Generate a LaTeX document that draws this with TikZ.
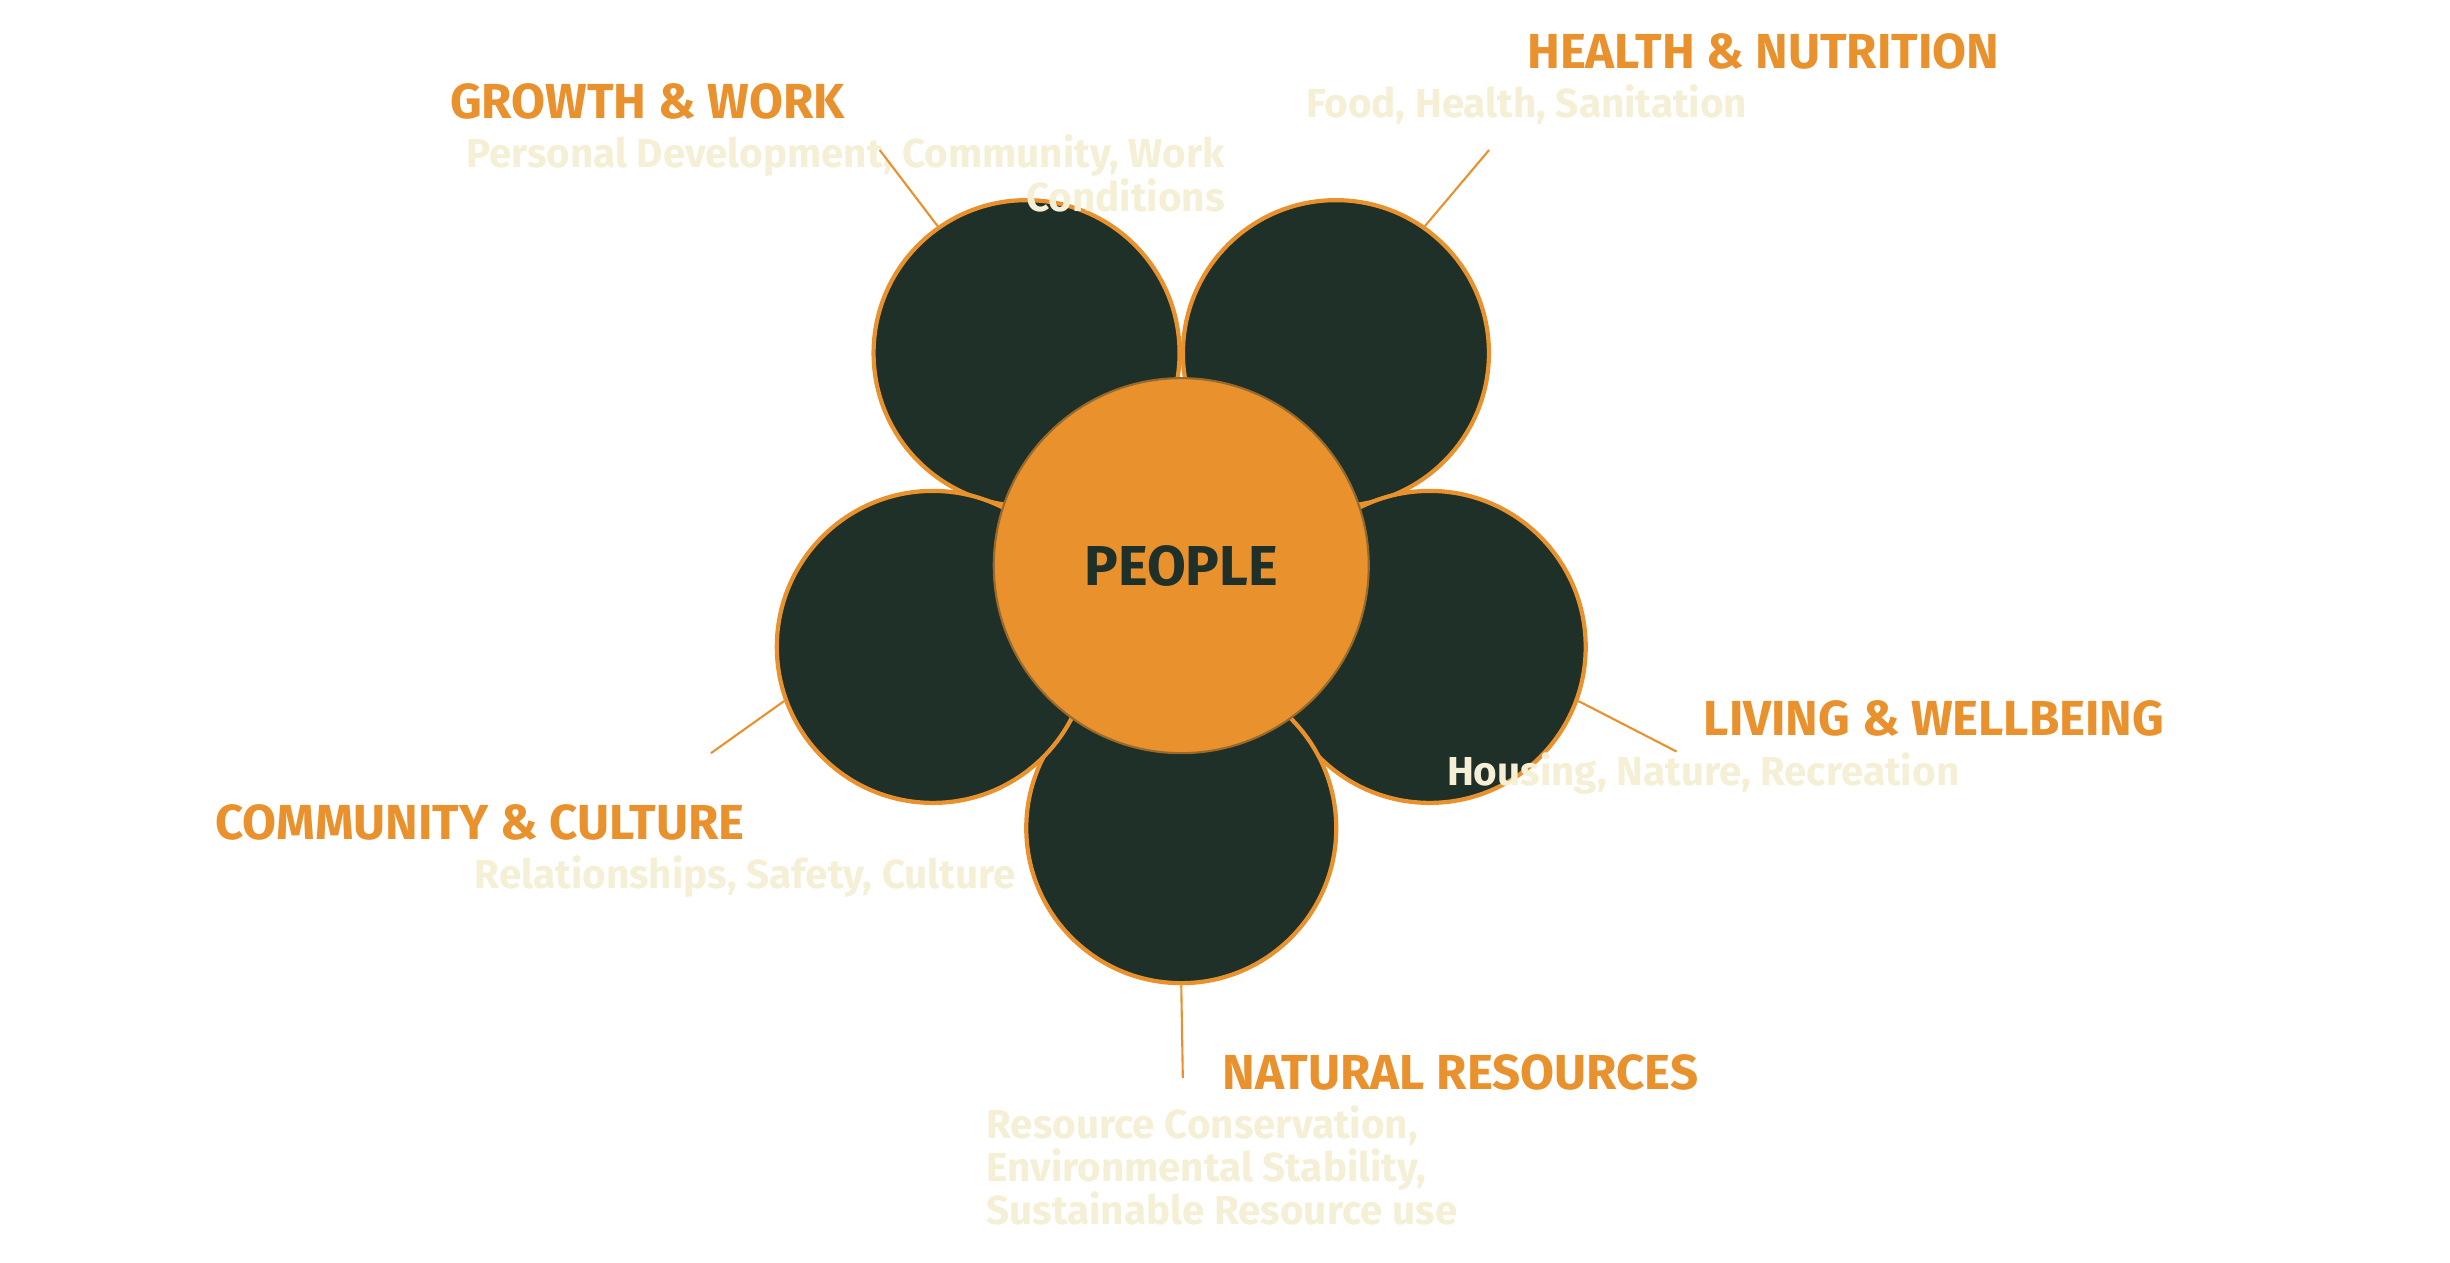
\documentclass[tikz,border=0pt]{standalone}
\usepackage{fontspec}
\setmainfont{Fira Sans}
\usetikzlibrary{positioning}
\definecolor{petalgreen}{HTML}{1E3028}
\definecolor{peopleorange}{HTML}{E8912D}
\definecolor{subcream}{HTML}{F5EFD6}
\tikzset{
    petal/.style={circle, draw=peopleorange, line width=1.2pt, fill=petalgreen, minimum size=#1},
    core/.style={circle, draw=petalgreen!40!peopleorange, line width=0.6pt, fill=peopleorange, minimum size=3.75cm, font=\fontsize{16}{18}\selectfont\bfseries, text=petalgreen},
    heading/.style={font=\fontsize{14}{16}\selectfont\bfseries, text=peopleorange, inner sep=0pt},
    sub/.style={font=\fontsize{11.5}{12.3}\selectfont\bfseries, text=subcream, inner sep=0pt},
    leader/.style={draw=peopleorange, line width=0.6pt}
}
\begin{document}
\begin{tikzpicture}[x=0.015625cm, y=-0.015625cm]
    \useasboundingbox (0,0) rectangle (1568,808);
    % petals
    \node (GW) [petal=3.06cm] at (657,226) {};
    \node (HN) [petal=3.06cm] at (855,226) {};
    \node (LW) [petal=3.12cm] at (915,414) {};
    \node (NR) [petal=3.1cm] at (756,530) {};
    \node (CC) [petal=3.12cm] at (597,414) {};
    \node (P) [core] at (756,362) {PEOPLE};

    % labels
    \node (GW_head) [heading, anchor=base east] at (541,76) {GROWTH \& WORK};
    \node (GW_sub) [sub, anchor=north east, align=right, below=4pt of GW_head.south east] {Personal Development, Community, Work\\Conditions};
    \node (HN_head) [heading, anchor=base west] at (977,44) {HEALTH \& NUTRITION};
    \node (HN_sub) [sub, anchor=north west, below=4pt of HN_head.south west] {Food, Health, Sanitation};
    \node (LW_head) [heading, anchor=base west] at (1090,471) {LIVING \& WELLBEING};
    \node (LW_sub) [sub, anchor=north west, below=4pt of LW_head.south west] {Housing, Nature, Recreation};
    \node (CC_head) [heading, anchor=base east] at (477,537) {COMMUNITY \& CULTURE};
    \node (CC_sub) [sub, anchor=north east, below=4pt of CC_head.south east] {Relationships, Safety, Culture};
    \node (NR_head) [heading, anchor=base west] at (782,697) {NATURAL RESOURCES};
    \node (NR_sub) [sub, anchor=north west, align=left, below=4pt of NR_head.south west] {Resource Conservation,\\Environmental Stability,\\Sustainable Resource use};

    % leaders
    \coordinate (GW_end) at (563,96);
    \coordinate (HN_end) at (953,96);
    \coordinate (LW_end) at (1073,481);
    \coordinate (NR_end) at (757,690);
    \coordinate (CC_end) at (455,482);
    \draw [leader] (GW.125) -- (GW_end);
    \draw [leader] (HN.55) -- (HN_end);
    \draw [leader] (LW.-20) -- (LW_end);
    \draw [leader] (NR.-90) -- (NR_end);
    \draw [leader] (CC.-160) -- (CC_end);
\end{tikzpicture}
\end{document}
